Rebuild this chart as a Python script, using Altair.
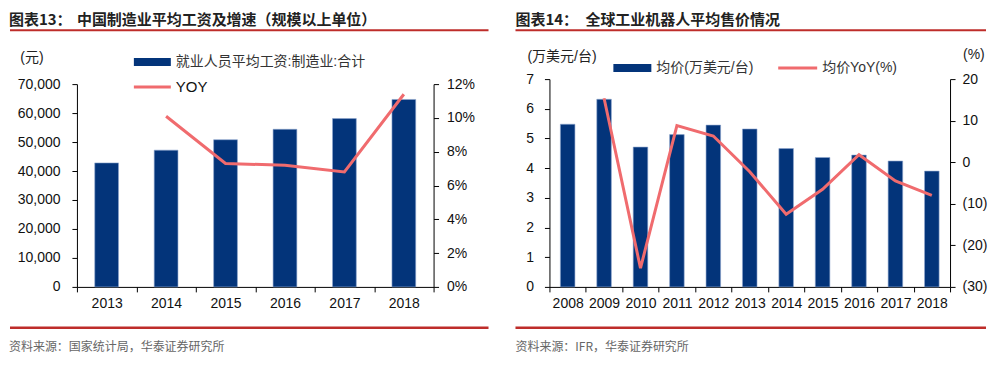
import altair as alt
import pandas as pd

# ---- data ----
years_l = ["2013", "2014", "2015", "2016", "2017", "2018"]
wage = [42800, 47200, 50800, 54400, 58100, 64700]
yoy_years_l = ["2014", "2015", "2016", "2017", "2018"]
yoy_l = [10.1, 7.3, 7.2, 6.8, 11.4]

years_r = ["2008", "2009", "2010", "2011", "2012", "2013", "2014", "2015", "2016", "2017", "2018"]
price = [5.48, 6.32, 4.71, 5.13, 5.45, 5.32, 4.66, 4.36, 4.44, 4.24, 3.90]
yoy_years_r = ["2009", "2010", "2011", "2012", "2013", "2014", "2015", "2016", "2017", "2018"]
yoy_r = [15.4, -25.5, 8.8, 6.3, -2.3, -12.5, -6.5, 1.8, -4.5, -8.0]

left_ticks = [0, 10000, 20000, 30000, 40000, 50000, 60000, 70000]
left_pct_ticks = [0, 2, 4, 6, 8, 10, 12]
right_ticks = [0, 1, 2, 3, 4, 5, 6, 7]
right_pct_ticks = [-30, -20, -10, 0, 10, 20]

NAVY = "#03347A"
PINK = "#F06B6E"
RED = "#BE2D2A"
LAT = "Liberation Sans, Noto Sans CJK SC"
CJK = "Noto Sans CJK SC"

HL = 208
WL = 357
WR = 401


def txt(s, x, y, size=14, color="#222", weight="normal", align="left", font=LAT):
    return alt.Chart(alt.Data(values=[{}])).mark_text(
        text=s, align=align, baseline="middle", fontSize=size, color=color,
        fontWeight=weight, font=font
    ).encode(x=alt.value(x), y=alt.value(y))


def hrule(x1, x2, y, color, w):
    return alt.Chart(alt.Data(values=[{}])).mark_rule(color=color, strokeWidth=w).encode(
        x=alt.value(x1), x2=alt.value(x2), y=alt.value(y))


def rect(x1, x2, y1, y2, color):
    return alt.Chart(alt.Data(values=[{}])).mark_rect(color=color).encode(
        x=alt.value(x1), x2=alt.value(x2), y=alt.value(y1), y2=alt.value(y2))


def xaxis():
    return alt.Axis(title=None, tickBand="extent", labelAngle=0, tickSize=5,
                    labelPadding=5, domainColor="#000", tickColor="#000")


# ---- left panel ----
dl = pd.DataFrame({"year": years_l, "wage": wage})
dly = pd.DataFrame({"year": yoy_years_l, "yoy": yoy_l})
xs_l = alt.Scale(domain=years_l, paddingInner=0, paddingOuter=0)

bars_l = alt.Chart(dl).mark_bar(width=alt.RelativeBandSize(0.4), color=NAVY,
                                stroke="#8EA6CF", strokeWidth=0.6).encode(
    x=alt.X("year:O", scale=xs_l, axis=xaxis()),
    y=alt.Y("wage:Q", scale=alt.Scale(domain=[0, 70000], range=[HL, 5]),
            axis=alt.Axis(title=None, orient="left", values=left_ticks,
                          labelExpr="format(datum.value, ',')",
                          tickSize=5, labelPadding=12, grid=False)),
)
line_l = alt.Chart(dly).mark_line(color=PINK, strokeWidth=3).encode(
    x=alt.X("year:O", scale=xs_l),
    y=alt.Y("yoy:Q", scale=alt.Scale(domain=[0, 12], range=[HL, 5]),
            axis=alt.Axis(title=None, orient="right", values=left_pct_ticks,
                          labelExpr="datum.value + '%'", tickSize=5, labelPadding=8,
                          grid=False)),
)

left = alt.layer(
    bars_l, line_l,
    txt("图表13：", -68, -59, size=15, weight="bold", font=CJK),
    txt("中国制造业平均工资及增速（规模以上单位）", 0, -59, size=15, weight="bold", font=CJK),
    hrule(-67, 412, -49, RED, 2),
    txt("(元)", -45, -21, align="center"),
    rect(57, 94, -21, -13, NAVY),
    txt("就业人员平均工资:制造业:合计", 99, -17, color="#333"),
    hrule(57, 94, 8, PINK, 3),
    txt("YOY", 99, 8, size=15, color="#111"),
    hrule(-67, 412, 249, RED, 2.5),
    txt("资料来源：国家统计局，华泰证券研究所", -68, 268, size=12, color="#666", font=CJK),
).resolve_scale(y="independent").properties(width=WL, height=HL)

# ---- right panel ----
dr = pd.DataFrame({"year": years_r, "price": price})
dry = pd.DataFrame({"year": yoy_years_r, "yoy": yoy_r})
xs_r = alt.Scale(domain=years_r, paddingInner=0, paddingOuter=0)

bars_r = alt.Chart(dr).mark_bar(width=alt.RelativeBandSize(0.4), color=NAVY,
                                stroke="#8EA6CF", strokeWidth=0.6).encode(
    x=alt.X("year:O", scale=xs_r, axis=xaxis()),
    y=alt.Y("price:Q", scale=alt.Scale(domain=[0, 7]),
            axis=alt.Axis(title=None, orient="left", values=right_ticks,
                          tickSize=5, labelPadding=11, grid=False)),
)
line_r = alt.Chart(dry).mark_line(color=PINK, strokeWidth=3).encode(
    x=alt.X("year:O", scale=xs_r),
    y=alt.Y("yoy:Q", scale=alt.Scale(domain=[-30, 20]),
            axis=alt.Axis(title=None, orient="right", values=right_pct_ticks,
                          labelExpr="datum.value < 0 ? '(' + abs(datum.value) + ')' : datum.value",
                          tickSize=5, labelPadding=7, grid=False)),
)

right = alt.layer(
    bars_r, line_r,
    txt("图表14：", -34, -59, size=15, weight="bold", font=CJK),
    txt("全球工业机器人平均售价情况", 36, -59, size=15, weight="bold", font=CJK),
    hrule(-34, 437, -49, RED, 2),
    txt("(万美元/台)", -22, -22),
    txt("(%)", 414, -24),
    rect(64, 102, -15, -7, NAVY),
    txt("均价(万美元/台)", 107, -11, color="#333"),
    hrule(229, 268, -11, PINK, 3),
    txt("均价YoY(%)", 273, -11, color="#333"),
    hrule(-34, 437, 249, RED, 2.5),
    txt("资料来源：IFR，华泰证券研究所", -34, 268, size=12, color="#666", font=CJK),
).resolve_scale(y="independent").properties(width=WR, height=HL)

chart = alt.hconcat(left, right, spacing=116, bounds="flush").properties(
    padding={"left": 0, "top": 5, "right": 0, "bottom": 0}
).configure_view(stroke=None).configure_axis(
    labelFont="Liberation Sans", labelFontSize=14, labelColor="#111",
    domainColor="#000", tickColor="#000", domainWidth=1, tickWidth=1
)

chart.save("out.html", embed_options={"renderer": "svg", "actions": False})
